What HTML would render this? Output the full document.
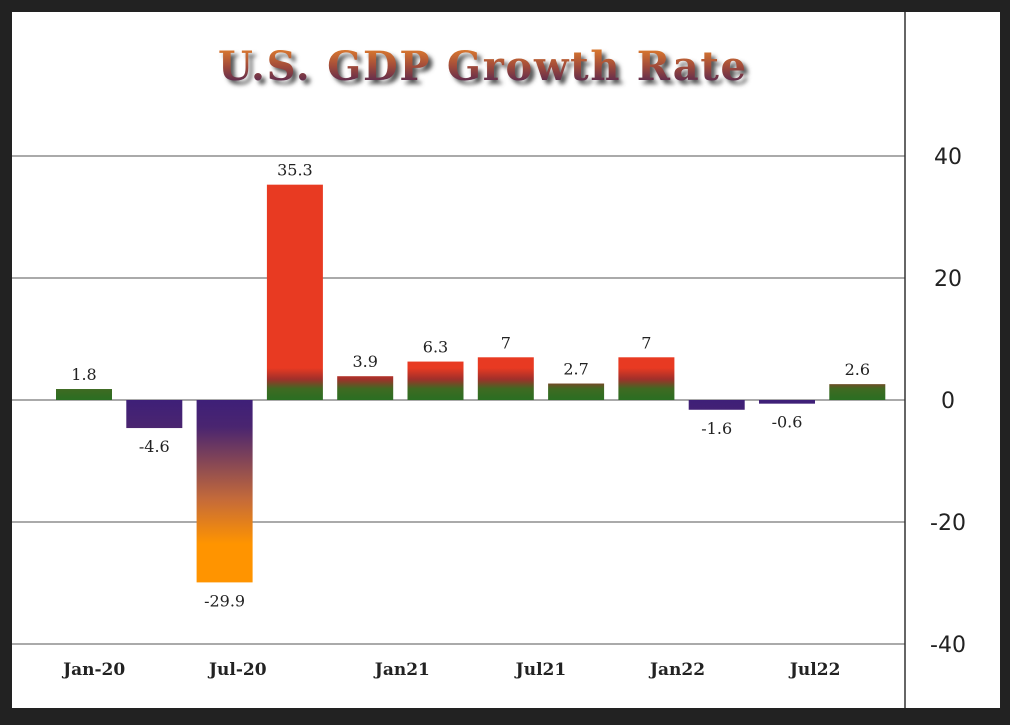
<!DOCTYPE html>
<html><head><meta charset="utf-8"><style>
html,body{margin:0;padding:0;background:#222;}
body{width:1010px;height:720px;overflow:hidden;}
</style></head><body>
<svg width="1010" height="720" xmlns="http://www.w3.org/2000/svg">
<defs>
<linearGradient id="pos" gradientUnits="userSpaceOnUse" x1="0" y1="400" x2="0" y2="368">
<stop offset="0" stop-color="#2a6e22"/><stop offset="0.35" stop-color="#3f6a22"/><stop offset="0.65" stop-color="#a0302a"/><stop offset="1" stop-color="#e83a22"/>
</linearGradient>
<linearGradient id="neg" gradientUnits="userSpaceOnUse" x1="0" y1="400" x2="0" y2="580">
<stop offset="0" stop-color="#3e1f78"/><stop offset="0.15" stop-color="#4a2570"/><stop offset="0.55" stop-color="#c46a3a"/><stop offset="0.8" stop-color="#ff9400"/><stop offset="1" stop-color="#ff9400"/>
</linearGradient>
<linearGradient id="ttl" x1="0" y1="0" x2="0" y2="1">
<stop offset="0" stop-color="#f08a2a"/><stop offset="0.5" stop-color="#a04a3a"/><stop offset="1" stop-color="#3a1a5a"/>
</linearGradient>
<filter id="sh"><feGaussianBlur stdDeviation="2"/></filter>
</defs>
<rect x="12" y="12" width="988" height="696" fill="#fff"/>
<g>
<text x="486" y="84" text-anchor="middle" font-family="DejaVu Serif, serif" font-weight="bold" font-size="40" fill="#555" filter="url(#sh)" textLength="528">U.S. GDP Growth Rate</text>
<text x="482" y="80" text-anchor="middle" font-family="DejaVu Serif, serif" font-weight="bold" font-size="40" fill="url(#ttl)" textLength="528">U.S. GDP Growth Rate</text>
</g>
<g id="grid"></g><g id="bars"></g><g id="labels"></g>
<line x1="905" y1="12" x2="905" y2="708" stroke="#333" stroke-width="1.5"/>
</svg>
<script>
const categories=["Q1-20","Q2-20","Q3-20","Q4-20","Q1-21","Q2-21","Q3-21","Q4-21","Q1-22","Q2-22","Q3-22","Q4-22"];
const values=[1.8,-4.6,-29.9,35.3,3.9,6.3,7,2.7,7,-1.6,-0.6,2.6];
const yTicks=[40,20,0,-20,-40];
const xLabels=["Jan-20","Jul-20","Jan21","Jul21","Jan22","Jul22"];
const ns="http://www.w3.org/2000/svg";
const y=v=>400-v*6.1;
const x=i=>84+i*70.3;
const bw=56;
function mk(t,a,p){const e=document.createElementNS(ns,t);for(const k in a)e.setAttribute(k,a[k]);p.appendChild(e);return e;}
const grid=document.getElementById('grid'),bars=document.getElementById('bars'),labels=document.getElementById('labels');
yTicks.forEach(t=>{
  const l=mk('line',{x1:12,x2:905,y1:y(t),y2:y(t),stroke:'#555','stroke-width':1},grid);
  
  
  const tx=mk('text',{x:948,y:y(t)+8,'text-anchor':'middle','font-family':'DejaVu Sans, sans-serif','font-size':22,fill:'#222'},grid);
  tx.textContent=t;
  
  
});
values.forEach((v,i)=>{
  const top=Math.min(y(v),y(0)),h=Math.abs(y(v)-y(0));
  const r=mk('rect',{x:x(i)-bw/2,y:top,width:bw,height:Math.max(h,1.5),fill:v>=0?'url(#pos)':'url(#neg)'},bars);
  
  
  const ly=v>=0?y(v)-9:y(v)+24;
  const t=mk('text',{x:x(i),y:ly,'text-anchor':'middle','font-family':'DejaVu Serif, serif','font-size':16,fill:'#222'},labels);
  t.textContent=v;
  
  
});
const xOff=[-25,-22,2,0,-4,-7];
xLabels.forEach((s,j)=>{
  const t=mk('text',{x:(x(j*2)+x(j*2+1))/2+xOff[j],y:675,'text-anchor':'middle','font-family':'DejaVu Serif, serif','font-weight':'bold','font-size':17,fill:'#222'},labels);
  t.textContent=s;
  
  
});
</script>
</body></html>
